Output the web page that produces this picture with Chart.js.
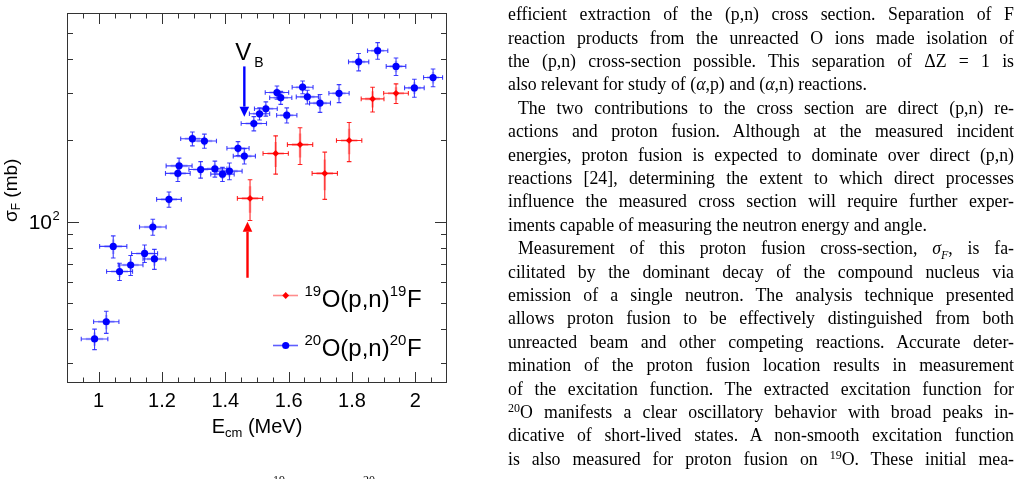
<!DOCTYPE html>
<html><head><meta charset="utf-8">
<script src="https://cdn.jsdelivr.net/npm/chart.js@4/dist/chart.umd.min.js"></script>
<style>
html,body{margin:0;padding:0;background:#fff;width:1018px;height:479px;overflow:hidden;position:relative;}
#chartBox{position:absolute;left:0;top:0;width:460px;height:479px;}
#txt{position:absolute;left:0;top:0;width:1018px;height:479px;font-family:"Liberation Serif","Times New Roman",serif;font-size:17.8px;color:#000;}
.ln{position:absolute;left:508px;white-space:nowrap;line-height:23.4px;height:23.4px;}
.ln.ind{left:518px;}
.sp{font-size:12px;position:relative;top:-6px;}
.frag{position:absolute;font-family:"Liberation Serif","Times New Roman",serif;font-size:12px;line-height:12px;color:#111;top:474px;}
</style></head>
<body>
<div id="chartBox"><canvas id="c" width="460" height="479"></canvas></div>
<div id="txt">
<div class="ln j" style="top:3.2px"><span>efficient extraction of the (p,n) cross section. Separation of F</span></div>
<div class="ln j" style="top:26.6px"><span>reaction products from the unreacted O ions made isolation of</span></div>
<div class="ln j" style="top:50px"><span>the (p,n) cross-section possible. This separation of ΔZ = 1 is</span></div>
<div class="ln" style="top:73.4px"><span>also relevant for study of (<i>α</i>,p) and (<i>α</i>,n) reactions.</span></div>
<div class="ln j ind" style="top:96.8px"><span>The two contributions to the cross section are direct (p,n) re-</span></div>
<div class="ln j" style="top:120.2px"><span>actions and proton fusion. Although at the measured incident</span></div>
<div class="ln j" style="top:143.6px"><span>energies, proton fusion is expected to dominate over direct (p,n)</span></div>
<div class="ln j" style="top:167px"><span>reactions [24], determining the extent to which direct processes</span></div>
<div class="ln j" style="top:190.4px"><span>influence the measured cross section will require further exper-</span></div>
<div class="ln" style="top:213.8px"><span>iments capable of measuring the neutron energy and angle.</span></div>
<div class="ln j ind" style="top:237.2px"><span>Measurement of this proton fusion cross-section, <i>σ<sub style="font-size:12px">F</sub></i>, is fa-</span></div>
<div class="ln j" style="top:260.6px"><span>cilitated by the dominant decay of the compound nucleus via</span></div>
<div class="ln j" style="top:284px"><span>emission of a single neutron. The analysis technique presented</span></div>
<div class="ln j" style="top:307.4px"><span>allows proton fusion to be effectively distinguished from both</span></div>
<div class="ln j" style="top:330.8px"><span>unreacted beam and other competing reactions. Accurate deter-</span></div>
<div class="ln j" style="top:354.2px"><span>mination of the proton fusion location results in measurement</span></div>
<div class="ln j" style="top:377.6px"><span>of the excitation function. The extracted excitation function for</span></div>
<div class="ln j" style="top:401px"><span><span class="sp">20</span>O manifests a clear oscillatory behavior with broad peaks in-</span></div>
<div class="ln j" style="top:424.4px"><span>dicative of short-lived states. A non-smooth excitation function</span></div>
<div class="ln j" style="top:447.8px"><span>is also measured for proton fusion on <span class="sp">19</span>O. These initial mea-</span></div>
<div class="frag" style="left:273px">19</div>
<div class="frag" style="left:363px">20</div>
</div>
<script>
// ---------------- data ----------------
const blueE     = [0.987, 1.024, 1.046, 1.066, 1.101, 1.145, 1.176, 1.171, 1.222, 1.250, 1.254, 1.296, 1.322, 1.334, 1.367, 1.391, 1.413, 1.440, 1.460, 1.490, 1.508, 1.528, 1.563, 1.575, 1.594, 1.644, 1.659, 1.699, 1.759, 1.821, 1.881, 1.939, 1.997, 2.056];
const blueSigma = [36.8, 42.6, 81.0, 65.4, 69.1, 76.3, 72.8, 95.6, 121, 151, 161, 203, 156, 199, 157, 150, 154, 187, 175, 231, 251, 262, 301, 288, 248, 315, 290, 275, 299, 391, 430, 376, 313, 342];
const blueErrE  = [0.042, 0.040, 0.043, 0.041, 0.039, 0.041, 0.036, 0.042, 0.039, 0.039, 0.041, 0.037, 0.037, 0.038, 0.038, 0.037, 0.040, 0.035, 0.035, 0.040, 0.032, 0.036, 0.037, 0.035, 0.032, 0.033, 0.035, 0.033, 0.032, 0.032, 0.032, 0.031, 0.031, 0.030];
const blueErrS  = [3.2, 4.0, 7.6, 4.8, 5.9, 5.7, 6.2, 6.5, 7.9, 10, 11, 12, 11, 12, 10.7, 9, 11, 11, 11.5, 14, 13, 16, 17, 16, 16, 17, 17, 21, 23, 29, 30.5, 28, 24, 26];

const redE     = [1.478, 1.559, 1.636, 1.714, 1.791, 1.865, 1.939];
const redSigma = [122, 179, 193, 151, 200, 285, 299];
const redErrE  = [0.040, 0.040, 0.040, 0.040, 0.040, 0.036, 0.039];
const redErrS  = [21, 29, 30, 30, 33, 30, 25];

const xTickValues = [1, 1.2, 1.4, 1.6, 1.8, 2];
const xTickLabels = ['1', '1.2', '1.4', '1.6', '1.8', '2'];
const xMinorTicks = [0.95, 1.05, 1.1, 1.15, 1.25, 1.3, 1.35, 1.45, 1.5, 1.55, 1.65, 1.7, 1.75, 1.85, 1.9, 1.95, 2.05];
const yMajorTicks = [100];
const yMinorTicks = [30, 40, 50, 60, 70, 80, 90, 200, 300, 400, 500];
const xRange = [0.9, 2.1];
const yRange = [25.27, 593];

// arrows (data units): V_B barrier arrow and red arrow
const arrowVB  = {x: 1.46, from: 376, to: 245};
const arrowRed = {x: 1.47, from: 62,  to: 100};

const SANS = "'Liberation Sans', Arimo, Helvetica, Arial, sans-serif";

// ---------------- plugins ----------------
const errorBars = {
  id: 'errorBars',
  beforeDatasetsDraw(chart) {
    const {ctx, scales: {x, y}} = chart;
    chart.data.datasets.forEach(ds => {
      ctx.save();
      ds.data.forEach((p, i) => {
        const px = x.getPixelForValue(p.x), py = y.getPixelForValue(p.y);
        const x0 = x.getPixelForValue(p.x - ds.errX[i]), x1 = x.getPixelForValue(p.x + ds.errX[i]);
        const y0 = y.getPixelForValue(p.y - ds.errY[i]), y1 = y.getPixelForValue(p.y + ds.errY[i]);
        ctx.strokeStyle = ds.errBand; ctx.lineWidth = 2.6;
        ctx.beginPath();
        ctx.moveTo(px + (x0 - px) * 0.65, py); ctx.lineTo(px + (x1 - px) * 0.65, py);
        ctx.moveTo(px, py + (y0 - py) * 0.65); ctx.lineTo(px, py + (y1 - py) * 0.65);
        ctx.stroke();
        ctx.strokeStyle = ds.errColor; ctx.lineWidth = 1.1;
        ctx.beginPath();
        ctx.moveTo(x0, py); ctx.lineTo(x1, py);
        ctx.moveTo(px, y0); ctx.lineTo(px, y1);
        ctx.stroke();
        const c = 2.3;
        ctx.beginPath();
        ctx.moveTo(x0, py - c); ctx.lineTo(x0, py + c);
        ctx.moveTo(x1, py - c); ctx.lineTo(x1, py + c);
        ctx.moveTo(px - c, y0); ctx.lineTo(px + c, y0);
        ctx.moveTo(px - c, y1); ctx.lineTo(px + c, y1);
        ctx.stroke();
      });
      ctx.restore();
    });
  }
};

function drawArrow(ctx, xs, ys, arrow, color) {
  const px = xs.getPixelForValue(arrow.x);
  const p0 = ys.getPixelForValue(arrow.from);
  const p1 = ys.getPixelForValue(arrow.to);
  const dir = p1 > p0 ? 1 : -1;
  const head = 10, hw = 4.8;
  ctx.save();
  ctx.strokeStyle = color; ctx.fillStyle = color; ctx.lineWidth = 2.4;
  ctx.beginPath(); ctx.moveTo(px, p0); ctx.lineTo(px, p1 - dir * head); ctx.stroke();
  ctx.beginPath();
  ctx.moveTo(px, p1); ctx.lineTo(px - hw, p1 - dir * head); ctx.lineTo(px + hw, p1 - dir * head);
  ctx.closePath(); ctx.fill();
  ctx.restore();
  return {px, p0, p1};
}

function textRun(ctx, parts, x, y) {
  let cx = x;
  parts.forEach(p => {
    ctx.font = p.size + 'px ' + SANS;
    ctx.fillText(p.t, cx, y + (p.dy || 0));
    cx += ctx.measureText(p.t).width + (p.gap || 0);
  });
  return cx - x;
}
function runWidth(ctx, parts) {
  let w = 0;
  parts.forEach(p => { ctx.font = p.size + 'px ' + SANS; w += ctx.measureText(p.t).width + (p.gap || 0); });
  return w;
}

const decorations = {
  id: 'decorations',
  afterDraw(chart) {
    const {ctx, chartArea: a, scales: {x, y}} = chart;
    ctx.save();
    ctx.strokeStyle = '#333'; ctx.lineWidth = 1;
    ctx.strokeRect(a.left + 0.5, a.top + 0.5, a.right - a.left - 1, a.bottom - a.top - 1);
    const xt = (v, L) => {
      const p = Math.round(x.getPixelForValue(v)) + 0.5;
      ctx.beginPath();
      ctx.moveTo(p, a.bottom); ctx.lineTo(p, a.bottom - L);
      ctx.moveTo(p, a.top); ctx.lineTo(p, a.top + L);
      ctx.stroke();
    };
    xTickValues.forEach(v => xt(v, 11));
    xMinorTicks.forEach(v => xt(v, 5.5));
    const yt = (v, L) => {
      const p = Math.round(y.getPixelForValue(v)) + 0.5;
      ctx.beginPath();
      ctx.moveTo(a.left, p); ctx.lineTo(a.left + L, p);
      ctx.moveTo(a.right, p); ctx.lineTo(a.right - L, p);
      ctx.stroke();
    };
    yMajorTicks.forEach(v => yt(v, 12));
    yMinorTicks.forEach(v => yt(v, 6));

    ctx.fillStyle = '#000';
    ctx.textBaseline = 'alphabetic';
    ctx.textAlign = 'left';
    const p100 = y.getPixelForValue(100);
    ctx.font = '21px ' + SANS;
    const w10 = ctx.measureText('10').width;
    ctx.fillText('10', 52 - w10, p100 + 7.5);
    ctx.font = '13px ' + SANS;
    ctx.fillText('2', 52.5, p100 - 1.5);

    const xt1 = [{t: 'E', size: 20}, {t: 'cm', size: 13, dy: 4}, {t: ' (MeV)', size: 20}];
    const wx = runWidth(ctx, xt1);
    textRun(ctx, xt1, (a.left + a.right) / 2 - wx / 2, 433);

    ctx.save();
    ctx.translate(16.5, 222);
    ctx.rotate(-Math.PI / 2);
    textRun(ctx, [{t: 'σ', size: 19}, {t: 'F', size: 12, dy: 3}, {t: ' (mb)', size: 19}], 0, 0);
    ctx.restore();

    const av = drawArrow(ctx, x, y, arrowVB, '#0000ff');
    drawArrow(ctx, x, y, arrowRed, '#ff0000');
    ctx.fillStyle = '#000';
    ctx.font = '24px ' + SANS;
    const wV = ctx.measureText('V').width;
    ctx.fillText('V', av.px - 1 - wV / 2, av.p0 - 6.5);
    ctx.font = '14px ' + SANS;
    ctx.fillText('B', av.px - 1 + wV / 2 + 3, av.p0 + 0.5);

    const legend = [
      {y: 295.5, base: 306.7, kind: 'red', n: '19'},
      {y: 345.5, base: 356.2, kind: 'blue', n: '20'}
    ];
    legend.forEach(L => {
      const isRed = L.kind === 'red';
      ctx.strokeStyle = isRed ? 'rgba(255,0,0,0.45)' : 'rgba(40,40,255,0.75)';
      ctx.lineWidth = 1.6;
      ctx.beginPath(); ctx.moveTo(273, L.y); ctx.lineTo(298, L.y); ctx.stroke();
      ctx.fillStyle = isRed ? '#ff0000' : '#0000ff';
      ctx.beginPath();
      if (isRed) {
        const r = 3.4;
        ctx.moveTo(285.7, L.y - r); ctx.lineTo(285.7 + r, L.y); ctx.lineTo(285.7, L.y + r); ctx.lineTo(285.7 - r, L.y); ctx.closePath();
      } else {
        ctx.arc(285.7, L.y, 3.6, 0, Math.PI * 2);
      }
      ctx.fill();
      ctx.fillStyle = '#000';
      textRun(ctx, [
        {t: L.n, size: 15, dy: -11, gap: 0.5},
        {t: 'O(p,n)', size: 24},
        {t: L.n, size: 15, dy: -11, gap: 0.5},
        {t: 'F', size: 24}
      ], 304.5, L.base);
    });
    ctx.restore();
  }
};

// ---------------- chart ----------------
new Chart(document.getElementById('c'), {
  type: 'scatter',
  data: {
    datasets: [
      {
        label: '19O(p,n)19F',
        data: redE.map((e, i) => ({x: e, y: redSigma[i]})),
        errX: redErrE, errY: redErrS,
        errColor: 'rgba(255,0,0,0.85)', errBand: 'rgba(255,0,0,0.3)',
        pointStyle: 'rectRot', pointRadius: 3.4, pointBorderWidth: 0,
        backgroundColor: '#ff0000', borderColor: '#ff0000'
      },
      {
        label: '20O(p,n)20F',
        data: blueE.map((e, i) => ({x: e, y: blueSigma[i]})),
        errX: blueErrE, errY: blueErrS,
        errColor: 'rgba(30,30,255,0.85)', errBand: 'rgba(60,60,255,0.3)',
        pointStyle: 'circle', pointRadius: 3.6, pointBorderWidth: 0,
        backgroundColor: '#0000ff', borderColor: '#0000ff'
      }
    ]
  },
  options: {
    responsive: false,
    animation: false,
    devicePixelRatio: 1,
    layout: {padding: {left: 0, top: 13, right: 13, bottom: 0}},
    plugins: {legend: {display: false}, tooltip: {enabled: false}},
    scales: {
      x: {
        type: 'linear', min: xRange[0], max: xRange[1],
        afterBuildTicks: s => { s.ticks = xTickValues.map(v => ({value: v})); },
        afterFit: s => { s.height = 96; },
        grid: {display: false, drawTicks: false},
        border: {display: false},
        ticks: {
          autoSkip: false, maxRotation: 0, padding: 6, color: '#000',
          font: {family: SANS, size: 20},
          callback: (v, i) => xTickLabels[i]
        }
      },
      y: {
        type: 'logarithmic', min: yRange[0], max: yRange[1],
        afterBuildTicks: s => { s.ticks = yMinorTicks.concat(yMajorTicks).sort((a, b) => a - b).map(v => ({value: v})); },
        afterFit: s => { s.width = 67; },
        grid: {display: false, drawTicks: false},
        border: {display: false},
        ticks: {display: false}
      }
    }
  },
  plugins: [errorBars, decorations]
});

// ---------------- justify body text lines ----------------
document.querySelectorAll('.ln.j').forEach(el => {
  const target = el.classList.contains('ind') ? 496 : 506;
  const span = el.firstElementChild;
  const w = span.getBoundingClientRect().width;
  const n = (span.textContent.match(/ /g) || []).length;
  if (n) span.style.wordSpacing = ((target - w) / n) + 'px';
});
</script>
</body></html>
